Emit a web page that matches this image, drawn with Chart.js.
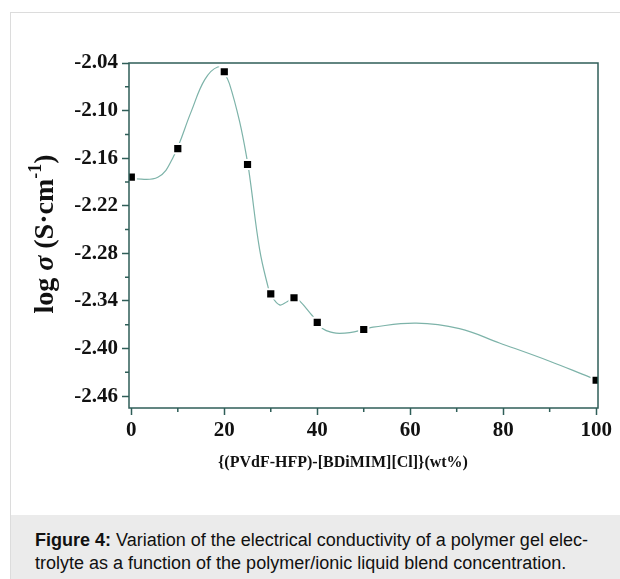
<!DOCTYPE html>
<html>
<head>
<meta charset="utf-8">
<script src="https://cdn.jsdelivr.net/npm/chart.js@4/dist/chart.umd.min.js"></script>
<style>
  body { margin: 0; background: #fff; width: 620px; height: 579px; overflow: hidden; position: relative; }
  .frame { position: absolute; left: 10px; top: 12px; width: 620px; height: 580px;
           border-left: 1px solid #dcdcdc; border-top: 1px solid #dcdcdc; }
  .caption { position: absolute; left: 11px; top: 515px; right: 0; bottom: 0; background: #ebebeb;
             font-family: "Liberation Sans", Arial, sans-serif; font-size: 18px; line-height: 23px;
             color: #111; padding: 14px 0 0 24px; white-space: nowrap; }
  .plot { position: absolute; left: 0; top: 0; width: 620px; height: 515px; }
</style>
</head>
<body>
<div class="frame"></div>
<div class="plot"><canvas id="chart"></canvas></div>
<div class="caption"><b>Figure 4:</b> Variation of the electrical conductivity of a polymer gel elec-<br>trolyte as a function of the polymer/ionic liquid blend concentration.</div>
<script>
// measured points
const wtPercent = [0, 10, 20, 25, 30, 35, 40, 50, 100];
const logSigma = [-2.184, -2.148, -2.051, -2.168, -2.331, -2.336, -2.367, -2.376, -2.440];

// smooth guide curve
const curveX = [0, 5.7, 8.9, 12.9, 15.8, 18.6, 20, 21.1, 23.3, 25, 25.6, 27.6, 29.4, 30, 31.9, 33.5, 35, 36.2, 39, 40, 41.2, 43.4, 44.8, 47, 50, 52, 61.3, 70.6, 79.2, 90, 98.6, 100];
const curveY = [-2.186, -2.184, -2.160, -2.101, -2.061, -2.045, -2.053, -2.066, -2.114, -2.165, -2.189, -2.275, -2.322, -2.332, -2.345, -2.341, -2.336, -2.340, -2.359, -2.366, -2.375, -2.380, -2.381, -2.380, -2.376, -2.373, -2.368, -2.375, -2.393, -2.416, -2.436, -2.439];

const xTicks = [0, 20, 40, 60, 80, 100];
const xMinor = [10, 30, 50, 70, 90];
const yTicks = [-2.46, -2.40, -2.34, -2.28, -2.22, -2.16, -2.10, -2.04];
const yMinor = [-2.43, -2.37, -2.31, -2.25, -2.19, -2.13, -2.07];

const axisColor = '#2f5e58';
const serif = '"Liberation Serif", "Times New Roman", serif';

const framePlugin = {
  id: 'frame',
  afterDraw(chart) {
    const ctx = chart.ctx;
    const a = chart.chartArea;
    const xs = chart.scales.x, ys = chart.scales.y;
    ctx.save();
    ctx.strokeStyle = axisColor;
    ctx.lineWidth = 1.5;
    ctx.strokeRect(a.left, a.top, a.right - a.left, a.bottom - a.top);
    ctx.beginPath();
    xMinor.forEach(v => {
      const px = xs.getPixelForValue(v);
      ctx.moveTo(px, a.bottom); ctx.lineTo(px, a.bottom + 4);
    });
    yMinor.forEach(v => {
      const py = ys.getPixelForValue(v);
      ctx.moveTo(a.left - 4, py); ctx.lineTo(a.left, py);
    });
    ctx.stroke();

    // x title
    ctx.fillStyle = '#111';
    ctx.font = 'bold 16px ' + serif;
    ctx.textAlign = 'center';
    ctx.textBaseline = 'middle';
    ctx.fillText('{(PVdF-HFP)-[BDiMIM][Cl]}(wt%)', 343, 463);

    // y title, rotated
    const parts = [
      { t: 'log ', f: 'bold 28px ' + serif, dy: 0 },
      { t: 'σ', f: 'italic bold 28px ' + serif, dy: 0 },
      { t: ' (S·cm', f: 'bold 28px ' + serif, dy: 0 },
      { t: '-1', f: 'bold 18px ' + serif, dy: -12 },
      { t: ')', f: 'bold 28px ' + serif, dy: 0 }
    ];
    ctx.textAlign = 'left';
    ctx.textBaseline = 'alphabetic';
    let total = 0;
    parts.forEach(p => { ctx.font = p.f; p.w = ctx.measureText(p.t).width; total += p.w; });
    ctx.translate(53, 234 + total / 2);
    ctx.rotate(-Math.PI / 2);
    let x = 0;
    parts.forEach(p => { ctx.font = p.f; ctx.fillText(p.t, x, p.dy); x += p.w; });
    ctx.restore();
  }
};

new Chart(document.getElementById('chart'), {
  type: 'scatter',
  data: {
    datasets: [{
      data: wtPercent.map((x, i) => ({ x: x, y: logSigma[i] })),
      pointStyle: 'rect',
      pointRadius: 6.5,
      backgroundColor: '#000',
      borderColor: '#fff',
      borderWidth: 2,
      showLine: false
    }, {
      data: curveX.map((x, i) => ({ x: x, y: curveY[i] })),
      showLine: true,
      borderColor: '#7db3a9',
      borderWidth: 1.2,
      pointRadius: 0,
      tension: 0.4
    }]
  },
  options: {
    responsive: true,
    maintainAspectRatio: false,
    animation: false,
    layout: { padding: { left: 70, top: 63, right: 22, bottom: 62 } },
    plugins: { legend: { display: false }, tooltip: { enabled: false } },
    scales: {
      x: {
        type: 'linear',
        min: -0.5,
        max: 100.4,
        afterBuildTicks: s => { s.ticks = xTicks.map(v => ({ value: v })); },
        afterFit: s => { s.height = 45; },
        border: { display: false },
        grid: { drawOnChartArea: false, tickLength: 7, tickColor: axisColor, tickWidth: 1.5 },
        ticks: { color: '#111', padding: 3, font: { family: serif, size: 21, weight: 'bold' }, callback: v => String(v) }
      },
      y: {
        type: 'linear',
        min: -2.475,
        max: -2.04,
        afterBuildTicks: s => { s.ticks = yTicks.map(v => ({ value: v })); },
        afterFit: s => { s.width = 59; },
        border: { display: false },
        grid: { drawOnChartArea: false, tickLength: 7, tickColor: axisColor, tickWidth: 1.5 },
        ticks: { color: '#111', padding: 4, font: { family: serif, size: 21, weight: 'bold' }, callback: v => v.toFixed(2) }
      }
    }
  },
  plugins: [framePlugin]
});
</script>
</body>
</html>
